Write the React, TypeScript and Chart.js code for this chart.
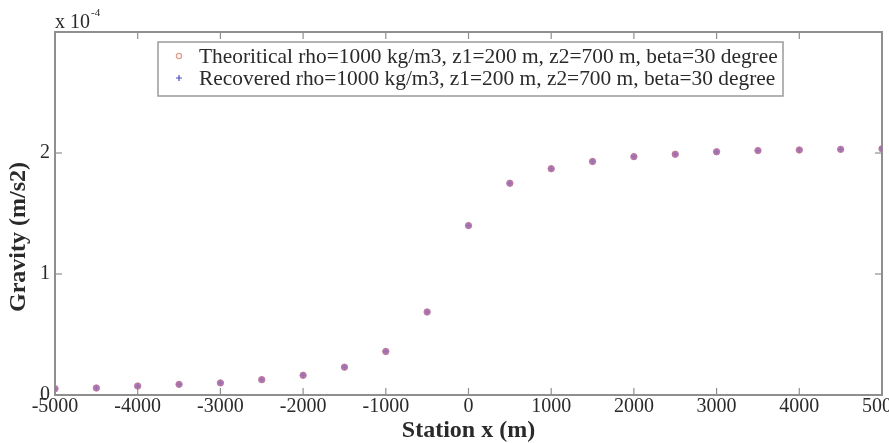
import React, { useEffect, useRef } from 'react';
import { Chart, registerables } from 'chart.js';

Chart.register(...registerables);

// ---- data ----
const stations = [-5000, -4500, -4000, -3500, -3000, -2500, -2000, -1500, -1000, -500, 0, 500, 1000, 1500, 2000, 2500, 3000, 3500, 4000, 4500, 5000];
const theoretical = [0.052, 0.058, 0.074, 0.088, 0.1, 0.127, 0.163, 0.23, 0.36, 0.686, 1.4, 1.75, 1.87, 1.93, 1.97, 1.99, 2.01, 2.02, 2.025, 2.03, 2.035];
const recovered = [0.052, 0.058, 0.074, 0.088, 0.1, 0.127, 0.163, 0.23, 0.36, 0.686, 1.4, 1.75, 1.87, 1.93, 1.97, 1.99, 2.01, 2.02, 2.025, 2.03, 2.035];
const seriesLabels = [
  'Theoritical rho=1000 kg/m3, z1=200 m, z2=700 m, beta=30 degree',
  'Recovered rho=1000 kg/m3, z1=200 m, z2=700 m, beta=30 degree',
];
const xTitle = 'Station x (m)';
const yTitle = 'Gravity (m/s2)';
const exponentBase = 'x 10';
const exponentPower = '-4';
const xMin = -5000, xMax = 5000, xStep = 1000;
const yMin = 0, yMax = 3, yStep = 1;
const yLabelled = [0, 1, 2];

const FONT = "'Liberation Serif', 'Times New Roman', serif";
const TEXT = '#2a2a2a';
const AXIS = '#8f8f8f';

const decorPlugin = {
  id: 'decor',
  beforeDatasetsDraw(chart: any) {
    const { ctx, chartArea: a, scales } = chart;
    const x = scales.x, y = scales.y;
    ctx.save();
    ctx.strokeStyle = AXIS;
    ctx.lineWidth = 2;
    ctx.strokeRect(a.left, a.top, a.right - a.left, a.bottom - a.top);
    ctx.lineWidth = 1.2;
    const line = (x1: number, y1: number, x2: number, y2: number) => {
      ctx.beginPath(); ctx.moveTo(x1, y1); ctx.lineTo(x2, y2); ctx.stroke();
    };
    x.ticks.forEach((t: any) => {
      const px = x.getPixelForValue(t.value);
      if (px <= a.left + 1 || px >= a.right - 1) return;
      line(px, a.bottom, px, a.bottom - 7);
      line(px, a.top, px, a.top + 7);
    });
    y.ticks.forEach((t: any) => {
      const py = y.getPixelForValue(t.value);
      if (py <= a.top + 1 || py >= a.bottom - 1) return;
      line(a.left, py, a.left + 7, py);
      line(a.right, py, a.right - 7, py);
    });
    ctx.restore();
  },
  afterDraw(chart: any) {
    const { ctx, chartArea: a } = chart;
    ctx.save();
    // exponent label
    ctx.fillStyle = TEXT;
    ctx.textBaseline = 'alphabetic';
    ctx.textAlign = 'left';
    ctx.font = `20px ${FONT}`;
    ctx.fillText(exponentBase, a.left, a.top - 4);
    const w = ctx.measureText(exponentBase).width;
    ctx.font = `11px ${FONT}`;
    ctx.fillText(exponentPower, a.left + w + 1, a.top - 16);

    // y axis title
    ctx.save();
    ctx.font = `bold 24px ${FONT}`;
    ctx.textAlign = 'center';
    ctx.textBaseline = 'middle';
    ctx.translate(19, 237);
    ctx.rotate(-Math.PI / 2);
    ctx.fillText(yTitle, 0, 0);
    ctx.restore();

    // legend
    const lx = 158, ly = 42, lw = 625, lh = 54;
    ctx.fillStyle = '#ffffff';
    ctx.fillRect(lx, ly, lw, lh);
    ctx.strokeStyle = '#9a9a9a';
    ctx.lineWidth = 1.5;
    ctx.strokeRect(lx, ly, lw, lh);
    ctx.font = `21.4px ${FONT}`;
    ctx.textBaseline = 'middle';
    ctx.textAlign = 'left';
    const rows = [56, 78];
    seriesLabels.forEach((lab, i) => {
      const cy = rows[i];
      if (i === 0) {
        ctx.strokeStyle = '#e0a08c';
        ctx.lineWidth = 1.3;
        ctx.beginPath(); ctx.arc(179, cy, 2.6, 0, Math.PI * 2); ctx.stroke();
      } else {
        ctx.strokeStyle = '#4a4ec0';
        ctx.lineWidth = 1.2;
        ctx.beginPath();
        ctx.moveTo(176, cy); ctx.lineTo(182, cy);
        ctx.moveTo(179, cy - 3); ctx.lineTo(179, cy + 3);
        ctx.stroke();
      }
      ctx.fillStyle = TEXT;
      ctx.fillText(lab, 199, cy + 1);
    });
    ctx.restore();
  },
};

export default function App() {
  const ref = useRef<HTMLCanvasElement | null>(null);
  useEffect(() => {
    if (!ref.current) return;
    const chart = new Chart(ref.current, {
      type: 'scatter',
      data: {
        datasets: [
          {
            label: seriesLabels[0],
            data: stations.map((s, i) => ({ x: s, y: theoretical[i] })),
            pointStyle: 'circle',
            pointRadius: 3.2,
            backgroundColor: 'rgba(160,110,175,0.9)',
            borderColor: 'rgba(200,120,150,0.9)',
            borderWidth: 1,
          },
          {
            label: seriesLabels[1],
            data: stations.map((s, i) => ({ x: s, y: recovered[i] })),
            pointStyle: 'cross',
            pointRadius: 3,
            borderColor: 'rgba(110,90,170,0.9)',
            backgroundColor: 'rgba(110,90,170,0.9)',
            borderWidth: 1.2,
          },
        ],
      },
      options: {
        responsive: false,
        animation: false,
        devicePixelRatio: 1,
        layout: { padding: { top: 32, right: 7, left: 0, bottom: 0 } },
        plugins: {
          legend: { display: false },
          tooltip: { enabled: false },
          title: { display: false },
        },
        scales: {
          x: {
            type: 'linear',
            min: xMin,
            max: xMax,
            border: { display: false },
            grid: { display: false, drawTicks: false },
            ticks: {
              stepSize: xStep,
              color: TEXT,
              padding: 0,
              font: { family: FONT, size: 20 },
              maxRotation: 0,
              autoSkip: false,
              callback: (v: any) => String(v),
            },
            title: {
              display: true,
              text: xTitle,
              color: TEXT,
              font: { family: FONT, size: 24, weight: 'bold', lineHeight: 1.0 },
              padding: { top: 0, bottom: 0 },
            },
            afterFit: (s: any) => {
              s.height = 48;
              s.paddingLeft = 0;
              s.paddingRight = 0;
            },
          },
          y: {
            min: yMin,
            max: yMax,
            border: { display: false },
            grid: { display: false, drawTicks: false },
            ticks: {
              stepSize: yStep,
              color: TEXT,
              padding: 5,
              font: { family: FONT, size: 20 },
              callback: (v: any) => (yLabelled.includes(v) ? String(v) : ''),
            },
            afterFit: (s: any) => {
              s.width = 55;
              s.paddingTop = 0;
              s.paddingBottom = 0;
            },
          },
        },
      },
      plugins: [decorPlugin],
    });
    return () => chart.destroy();
  }, []);
  return (
    <div style={{ position: 'fixed', left: 0, top: 0, width: 889, height: 443, background: '#fff' }}>
      <canvas ref={ref} width={889} height={443} />
    </div>
  );
}
